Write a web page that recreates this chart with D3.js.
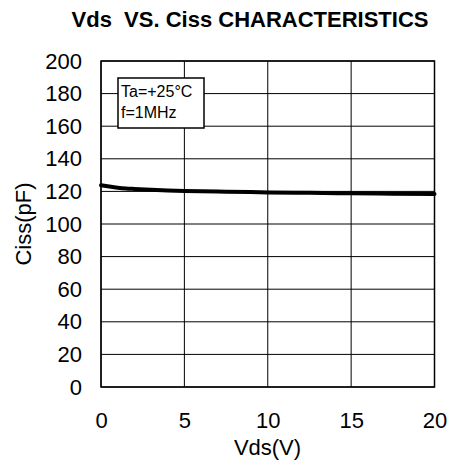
<!DOCTYPE html>
<html>
<head>
<meta charset="utf-8">
<script src="https://cdn.jsdelivr.net/npm/d3@7"></script>
<style>
html,body{margin:0;padding:0;background:#fff;}
svg{display:block;font-family:"Liberation Sans",Arial,sans-serif;}
</style>
</head>
<body>
<svg id="chart" width="450" height="464"></svg>
<script>
const title = "Vds  VS. Ciss CHARACTERISTICS";
const xLabel = "Vds(V)";
const yLabel = "Ciss(pF)";
const legendLines = ["Ta=+25°C", "f=1MHz"];
const xTicks = [0, 5, 10, 15, 20];
const yTicks = [0, 20, 40, 60, 80, 100, 120, 140, 160, 180, 200];
const vds  = [0, 0.5, 1, 1.5, 2, 3, 4, 5, 7.5, 10, 12.5, 15, 17.5, 20];
const ciss = [123.8, 123.0, 122.3, 121.8, 121.5, 121.0, 120.6, 120.3, 119.8, 119.4, 119.1, 118.8, 118.6, 118.4];

const svg = d3.select("#chart");
const m = {left: 101, right: 434.5, top: 61, bottom: 387};
const x = d3.scaleLinear().domain([0, 20]).range([m.left, m.right]);
const y = d3.scaleLinear().domain([0, 200]).range([m.bottom, m.top]);

// grid
const g = svg.append("g");
g.selectAll("line.v").data(xTicks).join("line")
  .attr("x1", d => x(d)).attr("x2", d => x(d))
  .attr("y1", m.top).attr("y2", m.bottom)
  .attr("stroke", "#000").attr("stroke-width", 1);
g.selectAll("line.h").data(yTicks).join("line")
  .attr("x1", m.left).attr("x2", m.right)
  .attr("y1", d => y(d)).attr("y2", d => y(d))
  .attr("stroke", "#000").attr("stroke-width", 1);
g.append("rect").attr("x", m.left).attr("y", m.top)
  .attr("width", m.right - m.left).attr("height", m.bottom - m.top)
  .attr("fill", "none").attr("stroke", "#000").attr("stroke-width", 1.5);

// axes labels via d3 axes (no tick lines)
const xAxis = svg.append("g").attr("transform", `translate(0,${m.bottom})`)
  .call(d3.axisBottom(x).tickValues(xTicks).tickSize(0).tickPadding(25).tickFormat(d3.format("d")));
xAxis.select(".domain").remove();
xAxis.selectAll("text").attr("font-size", 22).attr("font-family", "Liberation Sans, Arial, sans-serif").attr("fill", "#000");

const yAxis = svg.append("g").attr("transform", `translate(${m.left},0)`)
  .call(d3.axisLeft(y).tickValues(yTicks).tickSize(0).tickPadding(19).tickFormat(d3.format("d")));
yAxis.select(".domain").remove();
yAxis.selectAll("text").attr("font-size", 22).attr("font-family", "Liberation Sans, Arial, sans-serif").attr("fill", "#000");

// curve
const line = d3.line().x((d, i) => x(vds[i])).y(d => y(d)).curve(d3.curveMonotoneX);
svg.append("path").datum(ciss).attr("d", line)
  .attr("fill", "none").attr("stroke", "#000").attr("stroke-width", 4).attr("stroke-linecap", "round");

// legend box
const lb = svg.append("g");
lb.append("rect").attr("x", 118).attr("y", 78).attr("width", 86).attr("height", 50)
  .attr("fill", "#fff").attr("stroke", "#000").attr("stroke-width", 1.5);
lb.selectAll("text").data(legendLines).join("text")
  .attr("x", 121).attr("y", (d, i) => 97 + i * 20.5)
  .attr("font-size", 16).attr("fill", "#000").text(d => d);

// titles
svg.append("text").attr("x", 250).attr("y", 27).attr("text-anchor", "middle")
  .style("white-space", "pre")
  .attr("font-size", 22).attr("font-weight", "bold").text(title);
svg.append("text").attr("x", 267.5).attr("y", 455).attr("text-anchor", "middle")
  .attr("font-size", 22).text(xLabel);
svg.append("text").attr("transform", "translate(31,224) rotate(-90)").attr("text-anchor", "middle")
  .attr("font-size", 22).text(yLabel);
</script>
</body>
</html>
